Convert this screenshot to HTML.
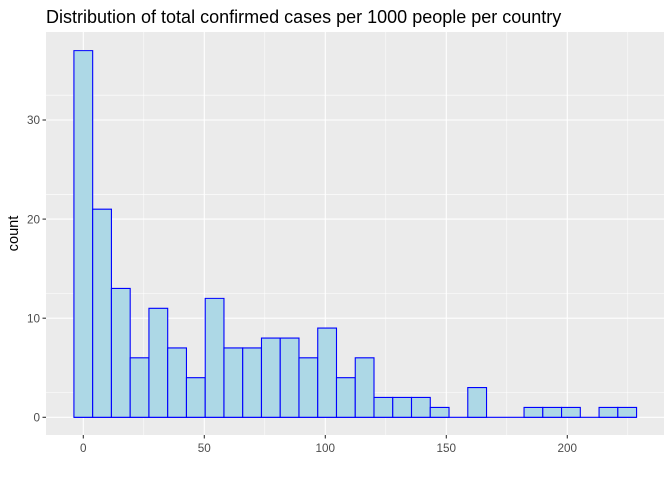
<!DOCTYPE html>
<html><head><meta charset="utf-8"><style>body{margin:0;background:#fff}svg{display:block}</style></head><body>
<svg width="672" height="480" xmlns="http://www.w3.org/2000/svg" font-family="Liberation Sans, sans-serif">
<rect x="0" y="0" width="672" height="480" fill="#fff"/>
<rect x="46" y="32" width="618" height="403" fill="#ebebeb"/>
<g stroke="#fff" stroke-width="0.55">
<line x1="46" x2="664" y1="392.5" y2="392.5"/><line x1="46" x2="664" y1="293.4" y2="293.4"/><line x1="46" x2="664" y1="194.3" y2="194.3"/><line x1="46" x2="664" y1="95.2" y2="95.2"/>
<line y1="32" y2="435" x1="143.8" x2="143.8"/><line y1="32" y2="435" x1="264.8" x2="264.8"/><line y1="32" y2="435" x1="385.8" x2="385.8"/><line y1="32" y2="435" x1="506.8" x2="506.8"/><line y1="32" y2="435" x1="627.8" x2="627.8"/>
</g>
<g stroke="#fff" stroke-width="1.1">
<line x1="46" x2="664" y1="417.3" y2="417.3"/><line x1="46" x2="664" y1="318.2" y2="318.2"/><line x1="46" x2="664" y1="219.1" y2="219.1"/><line x1="46" x2="664" y1="120" y2="120"/>
<line y1="32" y2="435" x1="83.3" x2="83.3"/><line y1="32" y2="435" x1="204.3" x2="204.3"/><line y1="32" y2="435" x1="325.3" x2="325.3"/><line y1="32" y2="435" x1="446.3" x2="446.3"/><line y1="32" y2="435" x1="567.3" x2="567.3"/>
</g>
<g transform="translate(83.3,417.3) scale(2.42,-9.91)" fill="#add8e6" stroke="#0000ff" stroke-width="1.1">
<line x1="-3.875" x2="228.625" y1="0" y2="0" vector-effect="non-scaling-stroke"/>
<rect x="-3.875" y="0" width="7.75" height="37" vector-effect="non-scaling-stroke"/>
<rect x="3.875" y="0" width="7.75" height="21" vector-effect="non-scaling-stroke"/>
<rect x="11.625" y="0" width="7.75" height="13" vector-effect="non-scaling-stroke"/>
<rect x="19.375" y="0" width="7.75" height="6" vector-effect="non-scaling-stroke"/>
<rect x="27.125" y="0" width="7.75" height="11" vector-effect="non-scaling-stroke"/>
<rect x="34.875" y="0" width="7.75" height="7" vector-effect="non-scaling-stroke"/>
<rect x="42.625" y="0" width="7.75" height="4" vector-effect="non-scaling-stroke"/>
<rect x="50.375" y="0" width="7.75" height="12" vector-effect="non-scaling-stroke"/>
<rect x="58.125" y="0" width="7.75" height="7" vector-effect="non-scaling-stroke"/>
<rect x="65.875" y="0" width="7.75" height="7" vector-effect="non-scaling-stroke"/>
<rect x="73.625" y="0" width="7.75" height="8" vector-effect="non-scaling-stroke"/>
<rect x="81.375" y="0" width="7.75" height="8" vector-effect="non-scaling-stroke"/>
<rect x="89.125" y="0" width="7.75" height="6" vector-effect="non-scaling-stroke"/>
<rect x="96.875" y="0" width="7.75" height="9" vector-effect="non-scaling-stroke"/>
<rect x="104.625" y="0" width="7.75" height="4" vector-effect="non-scaling-stroke"/>
<rect x="112.375" y="0" width="7.75" height="6" vector-effect="non-scaling-stroke"/>
<rect x="120.125" y="0" width="7.75" height="2" vector-effect="non-scaling-stroke"/>
<rect x="127.875" y="0" width="7.75" height="2" vector-effect="non-scaling-stroke"/>
<rect x="135.625" y="0" width="7.75" height="2" vector-effect="non-scaling-stroke"/>
<rect x="143.375" y="0" width="7.75" height="1" vector-effect="non-scaling-stroke"/>
<rect x="158.875" y="0" width="7.75" height="3" vector-effect="non-scaling-stroke"/>
<rect x="182.125" y="0" width="7.75" height="1" vector-effect="non-scaling-stroke"/>
<rect x="189.875" y="0" width="7.75" height="1" vector-effect="non-scaling-stroke"/>
<rect x="197.625" y="0" width="7.75" height="1" vector-effect="non-scaling-stroke"/>
<rect x="213.125" y="0" width="7.75" height="1" vector-effect="non-scaling-stroke"/>
<rect x="220.875" y="0" width="7.75" height="1" vector-effect="non-scaling-stroke"/>
</g>
<g stroke="#333" stroke-width="1.1">
<line x1="42.5" x2="46" y1="417.3" y2="417.3"/><line x1="42.5" x2="46" y1="318.2" y2="318.2"/><line x1="42.5" x2="46" y1="219.1" y2="219.1"/><line x1="42.5" x2="46" y1="120" y2="120"/>
<line y1="435" y2="438.5" x1="83.3" x2="83.3"/><line y1="435" y2="438.5" x1="204.3" x2="204.3"/><line y1="435" y2="438.5" x1="325.3" x2="325.3"/><line y1="435" y2="438.5" x1="446.3" x2="446.3"/><line y1="435" y2="438.5" x1="567.3" x2="567.3"/>
</g>
<g fill="#4d4d4d" font-size="11.7" text-anchor="end">
<text x="40" y="421.5">0</text><text x="40" y="322.4">10</text><text x="40" y="223.3">20</text><text x="40" y="124.2">30</text>
</g>
<g fill="#4d4d4d" font-size="11.7" text-anchor="middle">
<text x="83.3" y="452">0</text><text x="204.3" y="452">50</text><text x="325.3" y="452">100</text><text x="446.3" y="452">150</text><text x="567.3" y="452">200</text>
</g>
<text transform="translate(18,233.5) rotate(-90)" text-anchor="middle" font-size="14.6" fill="#000">count</text>
<text x="46" y="23" font-size="18" fill="#000">Distribution of total confirmed cases per 1000 people per country</text>
</svg>
</body></html>
